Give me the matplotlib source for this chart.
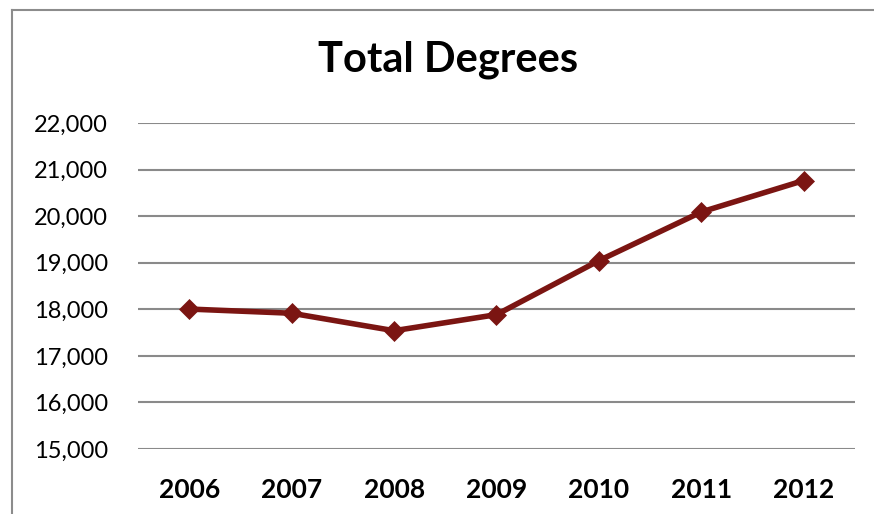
import matplotlib
matplotlib.use("Agg")
import matplotlib.pyplot as plt
from matplotlib.lines import Line2D
from matplotlib.ticker import FuncFormatter

years = ["2006", "2007", "2008", "2009", "2010", "2011", "2012"]
degrees = [18005, 17915, 17540, 17885, 19045, 20090, 20765]
title = "Total Degrees"

W, H = 874, 514
fig = plt.figure(figsize=(W / 100, H / 100), dpi=100)
fig.patch.set_facecolor("white")
ax = fig.add_axes([138 / W, 1 - 449 / H, (855 - 138) / W, (449 - 123) / H])

x = list(range(len(years)))
ax.plot(x, degrees, color="#7B1512", lw=4, marker="D", markersize=10.5,
        markeredgewidth=0.5, markeredgecolor="#7B1512", solid_joinstyle="round", zorder=3)

ax.set_xlim(-0.5, len(years) - 0.5)
ax.set_ylim(15000, 22000)
ax.set_yticks(range(15000, 22001, 1000))
ax.yaxis.set_major_formatter(FuncFormatter(lambda v, p: f"{int(v):,}"))
ax.set_xticks(x)
ax.set_xticklabels(years, fontfamily="Lato", fontweight="bold", fontsize=19, color="black")
for lab in ax.get_yticklabels():
    lab.set_fontfamily("Lato")
    lab.set_fontsize(17)
    lab.set_color("black")
ax.tick_params(axis="both", length=0)
ax.tick_params(axis="y", pad=21.5)
ax.tick_params(axis="x", pad=21)
ax.grid(axis="y", color="#8a8a8a", lw=1.5)
ax.set_axisbelow(True)
for s in ax.spines.values():
    s.set_visible(False)

fig.text((316 + 580) / 2 / W, 1 - 60 / H, title, ha="center", va="center",
         fontfamily="Lato", fontweight="bold", fontsize=30, color="black")

# chart frame (partially visible)
fig.add_artist(Line2D([12 / W, 12 / W], [0, 1 - 10 / H], color="#8c8c8c", lw=1.5,
                      transform=fig.transFigure))
fig.add_artist(Line2D([12 / W, 1], [1 - 10 / H, 1 - 10 / H], color="#8c8c8c", lw=1.5,
                      transform=fig.transFigure))

fig.savefig("out.png", dpi=100)
